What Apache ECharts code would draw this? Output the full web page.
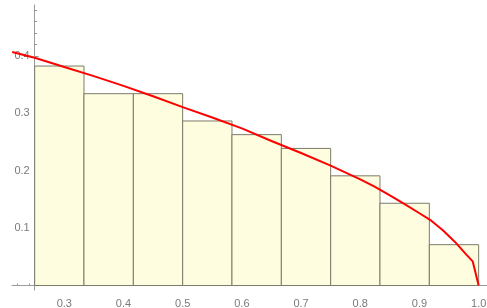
<!DOCTYPE html>
<html>
<head>
<meta charset="utf-8">
<script src="https://cdn.jsdelivr.net/npm/echarts@6/dist/echarts.min.js"></script>
<style>
  html, body { margin: 0; padding: 0; background: #fff; }
  #chart { width: 487px; height: 308px; }
</style>
</head>
<body>
<div id="chart"></div>
<script>
// histogram bins: [left, right]
const binEdges = [
  [0.25, 0.3333], [0.3333, 0.4167], [0.4167, 0.5], [0.5, 0.5833], [0.5833, 0.6667],
  [0.6667, 0.75], [0.75, 0.8333], [0.8333, 0.9167], [0.9167, 1.0]
];
const binHeights = [0.3826, 0.3344, 0.3344, 0.2868, 0.263, 0.239, 0.1912, 0.1434, 0.0712];

// red curve
const curveX = [0.212, 0.25, 0.3, 0.35, 0.4, 0.45, 0.5, 0.55, 0.6, 0.65, 0.7, 0.75,
  0.8, 0.825, 0.85, 0.875, 0.9, 0.92, 0.94, 0.96, 0.98, 0.99, 1.0];
const curveY = [0.407, 0.397, 0.381, 0.365, 0.348, 0.330, 0.311, 0.293, 0.274, 0.252, 0.231, 0.209,
  0.185, 0.172, 0.157, 0.142, 0.126, 0.113, 0.096, 0.076, 0.053, 0.042, 0.0];

// ticks
const xMajor = [0.3, 0.4, 0.5, 0.6, 0.7, 0.8, 0.9, 1.0];
const xMinor = [0.22, 0.24, 0.26, 0.28, 0.32, 0.34, 0.36, 0.38, 0.42, 0.44, 0.46, 0.48,
  0.52, 0.54, 0.56, 0.58, 0.62, 0.64, 0.66, 0.68, 0.72, 0.74, 0.76, 0.78,
  0.82, 0.84, 0.86, 0.88, 0.92, 0.94, 0.96, 0.98];
const yMajor = [0.1, 0.2, 0.3, 0.4];
const yMinor = [0.02, 0.04, 0.06, 0.08, 0.12, 0.14, 0.16, 0.18, 0.22, 0.24, 0.26, 0.28,
  0.32, 0.34, 0.36, 0.38, 0.42, 0.44, 0.46, 0.48];

const AXIS_COLOR = '#9a9a9a';
const LABEL_COLOR = '#7a7a7a';
const FONT = 'Liberation Sans';

const chart = echarts.init(document.getElementById('chart'), null, { renderer: 'canvas' });

const xCommon = {
  type: 'value', min: 0.2117, max: 1.0141,
  splitLine: { show: false }
};
const yCommon = {
  type: 'value', min: -0.0078, max: 0.489, position: 'left', offset: -22.7,
  splitLine: { show: false }
};

const option = {
  animation: false,
  grid: { left: 12, right: 0, top: 5, bottom: 18, containLabel: false, outerBoundsMode: 'none' },
  xAxis: [
    Object.assign({}, xCommon, {
      axisLine: { show: true, onZero: true, lineStyle: { color: AXIS_COLOR, width: 1 } },
      axisTick: { show: true, inside: true, length: 4, customValues: xMajor, lineStyle: { color: AXIS_COLOR } },
      axisLabel: {
        show: true, customValues: xMajor, margin: 8, color: LABEL_COLOR,
        fontFamily: FONT, fontSize: 11,
        formatter: v => v.toFixed(1)
      }
    }),
    Object.assign({}, xCommon, {
      position: 'bottom',
      axisLine: { show: false, onZero: true },
      axisTick: { show: true, inside: true, length: 2, customValues: xMinor, lineStyle: { color: AXIS_COLOR } },
      axisLabel: { show: false }
    })
  ],
  yAxis: [
    Object.assign({}, yCommon, {
      axisLine: { show: true, onZero: false, lineStyle: { color: AXIS_COLOR, width: 1 } },
      axisTick: { show: true, inside: true, length: 4, customValues: yMajor, lineStyle: { color: AXIS_COLOR } },
      axisLabel: {
        show: true, customValues: yMajor, margin: 5, color: LABEL_COLOR,
        fontFamily: FONT, fontSize: 11,
        formatter: v => v.toFixed(1)
      }
    }),
    Object.assign({}, yCommon, {
      axisLine: { show: false, onZero: false },
      axisTick: { show: true, inside: true, length: 2.5, customValues: yMinor, lineStyle: { color: AXIS_COLOR } },
      axisLabel: { show: false }
    })
  ],
  series: [
    {
      type: 'custom',
      xAxisIndex: 0, yAxisIndex: 0,
      data: binEdges.map((e, i) => [e[0], e[1], binHeights[i]]),
      renderItem: (params, api) => {
        const p0 = api.coord([api.value(0), api.value(2)]);
        const p1 = api.coord([api.value(1), 0]);
        return {
          type: 'rect',
          shape: { x: p0[0], y: p0[1], width: p1[0] - p0[0], height: p1[1] - p0[1] },
          style: { fill: '#fffddf', stroke: '#7b7b6a', lineWidth: 1 }
        };
      },
      z: 1
    },
    {
      type: 'line',
      xAxisIndex: 0, yAxisIndex: 0,
      data: curveX.map((x, i) => [x, curveY[i]]),
      showSymbol: false,
      smooth: false,
      lineStyle: { color: '#ff0000', width: 2 },
      z: 5
    }
  ]
};

chart.setOption(option);
</script>
</body>
</html>
